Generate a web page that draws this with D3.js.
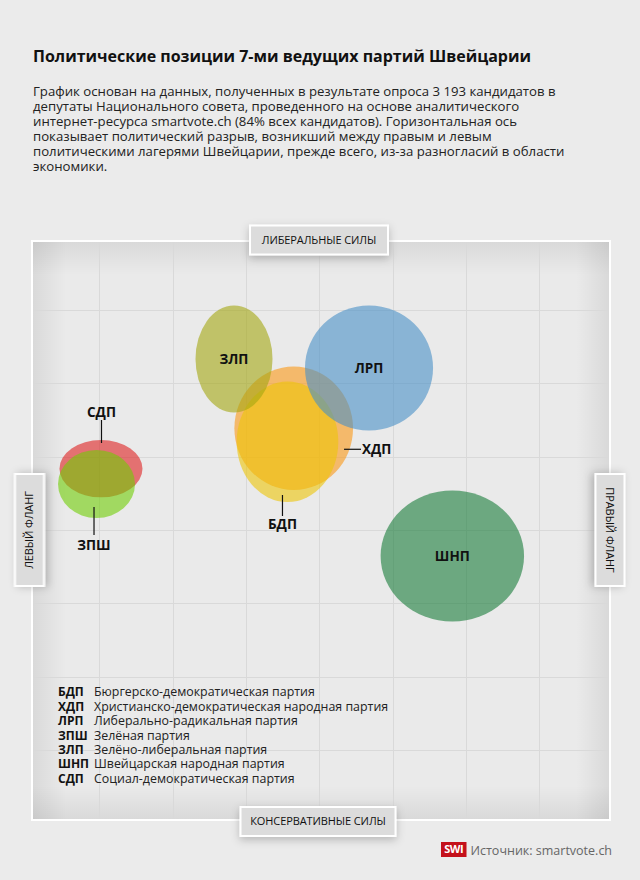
<!DOCTYPE html>
<html>
<head>
<meta charset="utf-8">
<script src="https://cdn.jsdelivr.net/npm/d3@7/dist/d3.min.js"></script>
<style>
  html, body { margin: 0; padding: 0; background: #ebebeb; }
  svg { display: block; font-family: "Open Sans", "Noto Sans", sans-serif; }
</style>
</head>
<body>
<svg id="chart" width="640" height="880"></svg>
<script>
// ---------- DATA ----------
const parties = ["БДП", "ХДП", "ЛРП", "ЗПШ", "ЗЛП", "ШНП", "СДП"];
const partyNames = [
  "Бюргерско-демократическая партия",
  "Христианско-демократическая народная партия",
  "Либерально-радикальная партия",
  "Зелёная партия",
  "Зелёно-либеральная партия",
  "Швейцарская народная партия",
  "Социал-демократическая партия"
];
// position on economic left/right axis (x) and liberal/conservative axis (y)
const xPos    = [-0.434, -0.349, 0.678, -3.038, -1.163, 1.814, -2.977];
const yPos    = [ 1.203,  1.387, 2.209,  0.627,  2.332, -0.355, 0.836];
// spread of candidates around the party mean
const xSpread = [0.693, 0.809, 0.873, 0.525, 0.525, 0.978, 0.566];
const ySpread = [0.821, 0.841, 0.852, 0.464, 0.730, 0.893, 0.391];
const gridTicks = [-3, -2, -1, 0, 1, 2, 3];
const axisLabels = { top: "ЛИБЕРАЛЬНЫЕ СИЛЫ", bottom: "КОНСЕРВАТИВНЫЕ СИЛЫ", left: "ЛЕВЫЙ ФЛАНГ", right: "ПРАВЫЙ ФЛАНГ" };
const title = "Политические позиции 7-ми ведущих партий Швейцарии";
const description = [
  "График основан на данных, полученных в результате опроса 3 193 кандидатов в",
  "депутаты Национального совета, проведенного на основе аналитического",
  "интернет-ресурса smartvote.ch (84% всех кандидатов). Горизонтальная ось",
  "показывает политический разрыв, возникший между правым и левым",
  "политическими лагерями Швейцарии, прежде всего, из-за разногласий в области",
  "экономики."
];
const sourceText = "Источник: smartvote.ch";

// ---------- STYLE ----------
const drawOrder = ["ХДП", "БДП", "ЛРП", "ЗЛП", "СДП", "ЗПШ", "ШНП"];
const colors = {
  "БДП": "#ecc507", "ХДП": "#fa9715", "ЛРП": "#4790c7", "ЗПШ": "#6fcd05",
  "ЗЛП": "#a4a611", "ШНП": "#187c39", "СДП": "#dd1f1f"
};
const fillOpacity = 0.6;
const labelStyle = {
  "БДП": { pos: "below", dx: -5, inset: 7, len: 21, gap: 8 },
  "ХДП": { pos: "right", dy: 21, inset: 9, len: 17, gap: 1 },
  "ЛРП": { pos: "inside" },
  "ЗПШ": { pos: "below", dx: -2.5, inset: 11, len: 28, gap: 10 },
  "ЗЛП": { pos: "inside" },
  "ШНП": { pos: "inside" },
  "СДП": { pos: "above", dx: 0.5, inset: 3, len: 23, gap: 8 }
};

const box = { x0: 32, y0: 241, x1: 610, y1: 820 };

const svg = d3.select("#chart");
const defs = svg.append("defs");

// scales
const x = d3.scaleLinear().domain([-3, 3]).range([99.3, 539.3]);
const y = d3.scaleLinear().domain([-3, 3]).range([750, 310]);

// ---------- TITLE ----------
svg.append("text").attr("x", 33).attr("y", 62)
  .attr("font-size", 16).attr("font-weight", 700).attr("fill", "#111")
  .text(title);
svg.append("text").attr("font-size", 13.2).attr("fill", "#222")
  .selectAll("tspan").data(description).join("tspan")
  .attr("x", 33).attr("y", (d, i) => 96 + i * 15).text(d => d);

// ---------- PLOT BOX ----------
const shadowGrad = (id, x1, y1, x2, y2) => {
  const g = defs.append("linearGradient").attr("id", id)
    .attr("x1", x1).attr("y1", y1).attr("x2", x2).attr("y2", y2);
  g.append("stop").attr("offset", 0).attr("stop-color", "#000").attr("stop-opacity", 0.075);
  g.append("stop").attr("offset", 1).attr("stop-color", "#000").attr("stop-opacity", 0);
};
shadowGrad("gl", 0, 0, 1, 0);
shadowGrad("gr", 1, 0, 0, 0);
shadowGrad("gt", 0, 0, 0, 1);
shadowGrad("gb", 0, 1, 0, 0);

svg.append("rect").attr("x", box.x0).attr("y", box.y0)
  .attr("width", box.x1 - box.x0).attr("height", box.y1 - box.y0)
  .attr("fill", "#eaeaea");
const sw = 34;
const shadow = svg.append("g");
shadow.append("rect").attr("x", box.x0).attr("y", box.y0).attr("width", sw).attr("height", box.y1 - box.y0).attr("fill", "url(#gl)");
shadow.append("rect").attr("x", box.x1 - sw).attr("y", box.y0).attr("width", sw).attr("height", box.y1 - box.y0).attr("fill", "url(#gr)");
shadow.append("rect").attr("x", box.x0).attr("y", box.y0).attr("width", box.x1 - box.x0).attr("height", sw).attr("fill", "url(#gt)");
shadow.append("rect").attr("x", box.x0).attr("y", box.y1 - sw).attr("width", box.x1 - box.x0).attr("height", sw).attr("fill", "url(#gb)");

// grid
const grid = svg.append("g").attr("stroke", "#d9d9d9").attr("stroke-width", 1);
grid.selectAll("line.v").data(gridTicks).join("line").attr("class", "v")
  .attr("x1", d => Math.round(x(d)) + 0.5).attr("x2", d => Math.round(x(d)) + 0.5)
  .attr("y1", box.y0).attr("y2", box.y1);
grid.selectAll("line.h").data(gridTicks).join("line").attr("class", "h")
  .attr("y1", d => Math.round(y(d)) + 0.5).attr("y2", d => Math.round(y(d)) + 0.5)
  .attr("x1", box.x0).attr("x2", box.x1);

svg.append("rect").attr("x", box.x0).attr("y", box.y0)
  .attr("width", box.x1 - box.x0).attr("height", box.y1 - box.y0)
  .attr("fill", "none").attr("stroke", "#fff").attr("stroke-width", 2);

// ---------- ELLIPSES ----------
const data = parties.map((p, i) => ({
  party: p, name: partyNames[i], x: xPos[i], y: yPos[i], sx: xSpread[i], sy: ySpread[i]
}));
const byParty = Object.fromEntries(data.map(d => [d.party, d]));
const ordered = drawOrder.map(p => byParty[p]);

const rx = d => x(d.x + d.sx) - x(d.x);
const ry = d => y(d.y) - y(d.y + d.sy);

svg.append("g").selectAll("ellipse").data(ordered).join("ellipse")
  .attr("cx", d => x(d.x)).attr("cy", d => y(d.y))
  .attr("rx", rx).attr("ry", ry)
  .attr("fill", d => colors[d.party]).attr("fill-opacity", fillOpacity);

// ---------- LABELS ----------
const lab = svg.append("g").attr("font-size", 13.5).attr("font-weight", 700).attr("fill", "#111");
data.forEach(d => {
  const s = labelStyle[d.party];
  const cx = x(d.x), cy = y(d.y);
  if (s.pos === "inside") {
    lab.append("text").attr("x", cx).attr("y", cy).attr("dy", "0.36em")
      .attr("text-anchor", "middle").text(d.party);
  } else if (s.pos === "below" || s.pos === "above") {
    const dir = s.pos === "below" ? 1 : -1;
    const edge = cy + dir * ry(d);
    const lx = cx + (s.dx || 0);
    lab.append("line").attr("x1", lx).attr("x2", lx)
      .attr("y1", edge - dir * s.inset).attr("y2", edge + dir * (s.len - s.inset))
      .attr("stroke", "#111").attr("stroke-width", 1.2);
    lab.append("text").attr("x", lx).attr("y", edge + dir * (s.len - s.inset + s.gap))
      .attr("dy", "0.36em").attr("text-anchor", "middle").text(d.party);
  } else if (s.pos === "right") {
    const edge = cx + rx(d);
    const ly = cy + s.dy;
    lab.append("line").attr("x1", edge - s.inset).attr("x2", edge - s.inset + s.len)
      .attr("y1", ly).attr("y2", ly).attr("stroke", "#111").attr("stroke-width", 1.2);
    lab.append("text").attr("x", edge - s.inset + s.len + s.gap).attr("y", ly)
      .attr("dy", "0.36em").text(d.party);
  }
});

// ---------- LEGEND ----------
const legendText = svg.append("text").attr("font-size", 12.4).attr("fill", "#111");
data.forEach((d, i) => {
  const yy = 692 + i * 14.4;
  legendText.append("tspan").attr("x", 58).attr("y", yy).attr("dy", "0.36em")
    .attr("font-weight", 700).attr("font-size", 12).text(d.party);
  legendText.append("tspan").attr("x", 94).attr("y", yy).attr("dy", "0.36em")
    .attr("fill", "#222").text(d.name);
});

// ---------- AXIS LABEL BOXES ----------
const f = defs.append("filter").attr("id", "ds").attr("x", "-30%").attr("y", "-30%").attr("width", "160%").attr("height", "180%");
f.append("feDropShadow").attr("dx", 0).attr("dy", 3).attr("stdDeviation", 4)
  .attr("flood-color", "#000").attr("flood-opacity", 0.22);

function labelBox(cx, cy, w, h, rot, text) {
  const g = svg.append("g").attr("transform", `translate(${cx},${cy}) rotate(${rot})`);
  g.append("rect").attr("x", -w / 2).attr("y", -h / 2).attr("width", w).attr("height", h)
    .attr("fill", "#dcdcdc").attr("stroke", "#fff").attr("stroke-width", 2)
    .attr("filter", "url(#ds)");
  g.append("text").attr("text-anchor", "middle").attr("dy", "0.36em")
    .attr("font-size", 11).attr("letter-spacing", -0.1).attr("fill", "#111").text(text);
}
labelBox(319, 240, 138, 29, 0, axisLabels.top);
labelBox(318, 821.5, 155, 29, 0, axisLabels.bottom);
labelBox(29.5, 530, 112, 29, -90, axisLabels.left);
labelBox(610, 530, 112, 29, 90, axisLabels.right);

// ---------- SOURCE ----------
svg.append("rect").attr("x", 441).attr("y", 842).attr("width", 25.5).attr("height", 15).attr("fill", "#c4111b");
svg.append("text").attr("x", 453.7).attr("y", 849.5).attr("dy", "0.36em").attr("text-anchor", "middle")
  .attr("font-size", 11).attr("font-weight", 700).attr("fill", "#fff").attr("letter-spacing", -0.5).text("SWI");
svg.append("text").attr("x", 470.5).attr("y", 850.5).attr("dy", "0.36em")
  .attr("font-size", 12.5).attr("fill", "#666").text(sourceText);
</script>
</body>
</html>
